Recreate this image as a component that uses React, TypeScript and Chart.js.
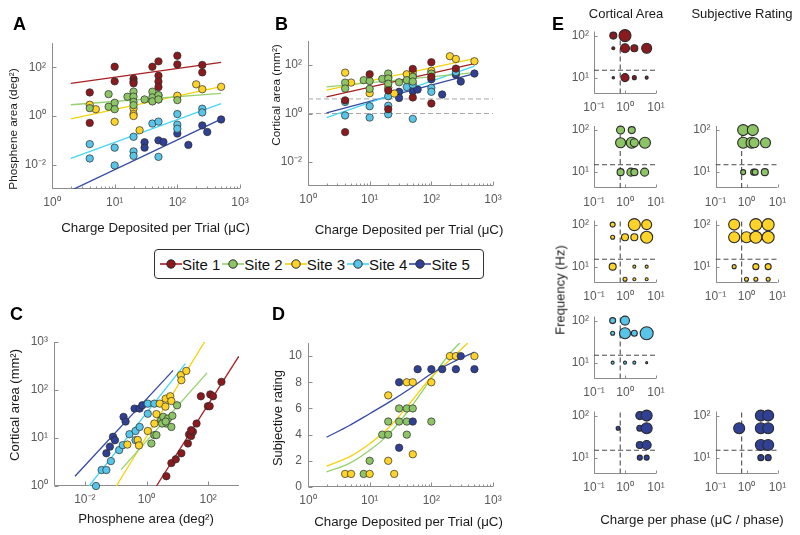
import React, { useEffect, useRef } from "react";
import { Chart, registerables } from "chart.js";

Chart.register(...registerables);

const FONT = '"Liberation Sans", Arial, Helvetica, sans-serif';
const TICK_COLOR = "#5a5a5a";
const AXIS_COLOR = "#8c8c8c";
const TITLE_COLOR = "#1a1a1a";
const EDGE = "#2b2b2b";
const TICK_SIZE = 12;
const E_TICK_SIZE = 12;
const MU = "\u03BC";

// ---------- legend / categories ----------
const SITES = ["Site 1", "Site 2", "Site 3", "Site 4", "Site 5"];
const SITE_FILL = ["#8a1a1d", "#8cc466", "#ffd327", "#58c5e8", "#2f4095"];
const SITE_LINE = ["#a81f22", "#92d36c", "#f6d20a", "#44d6f4", "#3449a8"];

// ---------- Panel A: charge (uC) vs phosphene area (deg^2) ----------
const A_S1_X = [4, 4, 10, 10, 20, 20, 20, 40, 50, 50, 50, 50, 100, 100, 250, 250];
const A_S1_Y = [9.3, 0.52, 106, 26.5, 34, 26, 22, 106, 176, 45, 26, 15.5, 300, 132, 125, 62];
const A_S2_X = [4, 8, 8, 10, 10, 16, 20, 20, 20, 20, 30, 40, 40, 40, 50, 50, 100];
const A_S2_Y = [2.1, 7.9, 2.4, 3.5, 1.9, 6.2, 10, 6.2, 3.8, 2.8, 4.8, 10, 5.8, 4, 7.2, 4.8, 4.5];
const A_S3_X = [4, 5, 10, 20, 20, 20, 25, 40, 50, 50, 100, 200, 250, 500];
const A_S3_Y = [2.9, 1.9, 0.58, 2.05, 1.2, 1.0, 0.26, 4.1, 7.0, 4.8, 6.8, 20, 12.6, 15.8];
const A_S4_X = [4, 4, 10, 10, 20, 20, 20, 40, 50, 50, 100, 100, 100, 250, 250];
const A_S4_Y = [0.07, 0.018, 0.05, 0.0093, 0.14, 0.035, 0.023, 0.49, 0.59, 0.021, 1.2, 0.44, 0.3, 2.0, 1.4];
const A_S5_X = [30, 30, 50, 60, 100, 150, 250, 300, 500];
const A_S5_Y = [0.083, 0.05, 0.1, 0.085, 0.19, 0.065, 0.41, 0.22, 0.72];
const A_FIT_X = [2, 500];
const A_FIT_Y = [[22, 160], [2.9, 8.5], [0.76, 16], [0.018, 3.2], [0.00087, 0.74]];
const A_X_TICKS = [1, 10, 100, 1000];
const A_Y_TICKS = [0.01, 1, 100];

// ---------- Panel B: charge (uC) vs cortical area (mm^2) ----------
const B_S1_X = [4, 4, 10, 20, 20, 50, 50, 100, 100, 100, 250];
const B_S1_Y = [3.5, 0.17, 42, 9, 1.5, 70, 4.6, 132, 33, 2.6, 72];
const B_S2_X = [4, 4, 8, 10, 10, 16, 20, 20, 20, 30, 40, 50, 50, 100];
const B_S2_Y = [19, 10.8, 24, 22, 10.5, 27, 45, 28, 17, 19.6, 24, 33, 21, 45];
const B_S3_X = [4, 5, 10, 20, 20, 25, 40, 50, 100, 200, 250, 500];
const B_S3_Y = [49, 19, 6.9, 31, 11.8, 6.7, 42, 52, 58, 234, 180, 145];
const B_S4_X = [4, 4, 10, 10, 20, 20, 20, 40, 50, 50, 50, 100, 100, 250];
const B_S4_Y = [3, 0.83, 2, 0.68, 5.2, 2.1, 0.93, 12.6, 38, 15.8, 0.6, 11.5, 7.9, 52];
const B_S5_X = [30, 30, 50, 60, 100, 150, 250, 300, 500];
const B_S5_Y = [7.9, 4.4, 8.4, 9.8, 26, 6.1, 40, 21, 45];
const B_FIT_X = [2, 500];
const B_FIT_Y = [[4.9, 117], [12.6, 49], [9.2, 187], [0.68, 91], [1.07, 45]];
const B_DASH_LEVELS = [1, 4];
const B_X_TICKS = [1, 10, 100, 1000];
const B_Y_TICKS = [0.01, 1, 100];

// ---------- Panel C: phosphene area vs cortical area ----------
const C_S1_X = [4.4, 6.4, 8.9, 13.5, 22, 24, 28, 32, 28, 42, 58, 98, 112, 117, 144, 270];
const C_S1_Y = [1.6, 3, 3.6, 4.8, 7.7, 11.8, 11, 13.5, 14.6, 20, 74, 46, 46, 81, 74, 148];
const C_S2_X = [1.44, 1.8, 2.1, 3, 3.5, 4.4, 5, 6.4, 6.9, 9.8, 3.2, 4.2];
const C_S2_Y = [7.7, 11.5, 11.5, 23.6, 27.6, 20, 25.5, 17, 29, 48, 20, 22];
const C_S3_X = [0.24, 0.52, 0.57, 1.1, 1.8, 2.1, 2.7, 4.1, 4.2, 5.9, 6.4, 13, 13.5, 19.5];
const C_S3_Y = [7.3, 9.1, 7, 14, 20, 31.5, 52, 45, 66, 74, 59, 204, 160, 250];
const C_S4_X = [0.023, 0.035, 0.05, 0.07, 0.13, 0.17, 0.28, 0.44, 0.44, 0.6, 1.1, 1.1, 1.8];
const C_S4_Y = [1.0, 2.15, 2.15, 3.3, 5.6, 7.1, 12, 14, 9, 17, 32, 52, 52];
const C_S5_X = [0.05, 0.065, 0.082, 0.095, 0.18, 0.21, 0.41, 0.6, 0.73];
const C_S5_Y = [4.8, 6.6, 10.6, 9, 27.5, 22, 41, 41, 48];
const C_FIT_X = [[2.1, 980], [0.15, 92], [0.105, 78], [0.0137, 18.2], [0.0048, 7.3]];
const C_FIT_Y = [[1, 500], [2.2, 228], [1, 1030], [1, 355], [1.6, 257]];
const C_X_TICKS = [0.01, 1, 100];
const C_Y_TICKS = [1, 10, 100, 1000];

// ---------- Panel D: charge vs subjective rating ----------
const D_S2_X = [8, 10, 16, 20, 20, 30, 40, 50, 30, 40, 40, 100];
const D_S2_Y = [1, 2, 4, 4, 5, 6, 6, 6, 5, 5, 4, 5];
const D_S3_X = [4, 5, 10, 20, 20, 25, 40, 50, 50, 100, 200, 250, 500];
const D_S3_Y = [1, 1, 1, 2, 7, 1, 8, 8, 2.5, 8, 10, 10, 10];
const D_S5_X = [30, 30, 50, 60, 100, 150, 250, 300, 500];
const D_S5_Y = [8, 3, 5, 9, 9, 9, 9, 10, 9];
const D_FIT_S2_X = [2, 4.7, 10, 21, 45, 100, 200, 290];
const D_FIT_S2_Y = [1.15, 1.8, 2.8, 4.1, 6.0, 8.3, 10.2, 11];
const D_FIT_S3_X = [2, 4.7, 10, 21, 45, 100, 200, 390];
const D_FIT_S3_Y = [1.6, 2.3, 3.3, 4.6, 6.4, 8.4, 9.7, 11];
const D_FIT_S5_X = [2, 4.7, 10, 21, 45, 100, 225, 500];
const D_FIT_S5_Y = [3.8, 4.7, 5.6, 6.5, 7.5, 8.65, 9.55, 10.3];
const D_X_TICKS = [1, 10, 100, 1000];
const D_Y_TICKS = [0, 2, 4, 6, 8, 10];

// ---------- Panel E: charge per phase vs frequency (marker size = response) ----------
const E_X_TICKS = [0.1, 1, 10];
const E_Y_TICKS = [10, 100];
const E_CHARGE_THRESHOLD = 0.7;
const E_FREQ_THRESHOLD = 15;

const E1_CA_CHARGE = [0.42, 1.0, 0.42, 1.0, 2.0, 5.0, 0.42, 1.0, 2.0, 5.0];
const E1_CA_FREQ = [100, 100, 50, 50, 50, 50, 10, 10, 10, 10];
const E1_CA_SIZE = [3.5, 6, 1.5, 4.5, 3.5, 5, 1.2, 4, 2, 1.5];

const E2_CA_CHARGE = [0.72, 1.65, 0.72, 1.65, 2.0, 4.4, 0.72, 1.55, 2.0, 4.3];
const E2_CA_FREQ = [100, 100, 50, 50, 50, 50, 10, 10, 10, 10];
const E2_CA_SIZE = [4, 3.5, 5, 5.5, 4, 5.5, 3.5, 4, 3.5, 4];
const E2_SR_CHARGE = [0.78, 1.6, 0.78, 1.45, 1.75, 4.1, 0.78, 1.7, 1.9, 3.9];
const E2_SR_FREQ = [100, 100, 50, 50, 50, 50, 10, 10, 10, 10];
const E2_SR_SIZE = [5.5, 5.5, 5.5, 5.5, 5, 5, 2.5, 3, 3, 3.5];

const E3_CA_CHARGE = [0.4, 2, 5, 0.4, 1, 2, 5, 0.4, 2, 5, 1, 2, 5];
const E3_CA_FREQ = [100, 100, 100, 50, 50, 50, 50, 10, 10, 10, 5, 5, 5];
const E3_CA_SIZE = [2.5, 6, 5, 2, 3.5, 3.5, 6, 3.5, 1.5, 1.5, 2, 1.5, 1.5];
const E3_SR_CHARGE = [0.4, 2, 5, 0.4, 1, 2, 5, 0.4, 2, 5, 1, 2, 5];
const E3_SR_FREQ = [100, 100, 100, 50, 50, 50, 50, 10, 10, 10, 5, 5, 5];
const E3_SR_SIZE = [5.5, 6, 6, 5.5, 5.5, 6, 6, 2, 3, 3, 2, 2, 2];

const E4_CA_CHARGE = [0.4, 1, 0.4, 1, 2, 5, 0.4, 1, 2, 5];
const E4_CA_FREQ = [100, 100, 50, 50, 50, 50, 10, 10, 10, 10];
const E4_CA_SIZE = [3, 4.5, 2, 5.5, 3, 6.5, 1.5, 1.5, 1.5, 1];

const E5_CA_CHARGE = [0.6, 3, 5, 3, 5, 3, 5, 3, 5];
const E5_CA_FREQ = [50, 100, 100, 50, 50, 20, 20, 10, 10];
const E5_CA_SIZE = [2, 4, 5.5, 3, 5.5, 3.5, 4.5, 2.5, 2.5];
const E5_SR_CHARGE = [0.58, 2.9, 5, 2.9, 5, 2.9, 5, 2.9, 5];
const E5_SR_FREQ = [50, 100, 100, 50, 50, 20, 20, 10, 10];
const E5_SR_SIZE = [5.5, 5.5, 5.5, 5.5, 5.5, 5.5, 5.5, 3, 3];

// ---------- text labels ----------
const X_CHARGE_TITLE = "Charge Deposited per Trial (" + MU + "C)";
const AXIS_TITLES = [
  { text: X_CHARGE_TITLE, x: 155.5, y: 227.5, size: 13.3, rotate: false },
  { text: "Phosphene area (deg\u00B2)", x: 13.5, y: 129, size: 11.8, rotate: true },
  { text: X_CHARGE_TITLE, x: 409, y: 229.5, size: 13.3, rotate: false },
  { text: "Cortical area (mm\u00B2)", x: 276.5, y: 95, size: 11.8, rotate: true },
  { text: "Phosphene area (deg\u00B2)", x: 146, y: 519, size: 13.2, rotate: false },
  { text: "Cortical area (mm\u00B2)", x: 13.5, y: 405, size: 13, rotate: true },
  { text: X_CHARGE_TITLE, x: 408.5, y: 521.5, size: 13.3, rotate: false },
  { text: "Subjective rating", x: 276.5, y: 417.5, size: 13, rotate: true },
  { text: "Cortical Area", x: 626, y: 13, size: 13, rotate: false },
  { text: "Subjective Rating", x: 742, y: 13, size: 13, rotate: false },
  { text: "Frequency (Hz)", x: 559.5, y: 290, size: 13, rotate: true },
  { text: "Charge per phase (" + MU + "C / phase)", x: 692, y: 519.5, size: 13.3, rotate: false },
];

// ---------- helpers ----------
const SUP: Record<string, string> = {
  "-": "\u207B", "0": "\u2070", "1": "\u00B9", "2": "\u00B2", "3": "\u00B3",
  "4": "\u2074", "5": "\u2075", "6": "\u2076", "7": "\u2077", "8": "\u2078", "9": "\u2079",
};
const pow10Label = (v: number) =>
  "10" + String(Math.round(Math.log10(v))).split("").map((c) => SUP[c] || c).join("");

const pts = (xs: number[], ys: number[]) => xs.map((x, i) => ({ x, y: ys[i] }));

function scatterDs(xs: number[], ys: number[], site: number, radius: number | number[] = 3.7, bw = 0.7) {
  return {
    label: SITES[site],
    data: pts(xs, ys),
    showLine: false,
    clip: false,
    pointRadius: radius,
    pointHoverRadius: radius,
    pointBackgroundColor: SITE_FILL[site],
    pointBorderColor: EDGE,
    pointBorderWidth: bw,
    order: 0,
  };
}

function lineDs(xs: number[], ys: number[], color: string, width = 1.3, dash: number[] = [], tension = 0) {
  return {
    data: pts(xs, ys),
    showLine: true,
    pointRadius: 0,
    pointHoverRadius: 0,
    borderColor: color,
    borderWidth: width,
    borderDash: dash,
    tension,
    fill: false,
    order: 1,
  };
}

const matlabAxes = {
  id: "matlabAxes",
  beforeDatasetsDraw(chart: any, _a: any, opts: any) {
    const { ctx, chartArea: a, scales } = chart;
    const xs = scales.x;
    const ys = scales.y;
    const L = Math.round(a.left) + 0.5;
    const B = Math.round(a.bottom) - 0.5;
    const len = opts.tickLen ?? 4;
    ctx.save();
    ctx.strokeStyle = AXIS_COLOR;
    ctx.lineWidth = 1;
    ctx.beginPath();
    ctx.moveTo(L, a.top);
    ctx.lineTo(L, B);
    ctx.lineTo(a.right, B);
    for (const v of opts.xTicks || []) {
      const px = Math.round(xs.getPixelForValue(v)) + 0.5;
      ctx.moveTo(px, B);
      ctx.lineTo(px, B - len);
    }
    for (const v of opts.yTicks || []) {
      const py = Math.round(ys.getPixelForValue(v)) + 0.5;
      ctx.moveTo(L, py);
      ctx.lineTo(L + len, py);
    }
    if (opts.xMinor) {
      const lo = Math.floor(Math.log10(xs.min));
      const hi = Math.ceil(Math.log10(xs.max));
      for (let e = lo; e < hi; e++) {
        for (let k = 2; k <= 9; k++) {
          const v = k * Math.pow(10, e);
          if (v <= xs.min || v >= xs.max) continue;
          const px = Math.round(xs.getPixelForValue(v)) + 0.5;
          ctx.moveTo(px, B);
          ctx.lineTo(px, B - len / 2);
        }
      }
    }
    ctx.stroke();
    ctx.restore();
  },
};

type Axis = {
  type: "logarithmic" | "linear";
  min: number;
  max: number;
  ticks: number[];
  size: number;
  pad: number;
  minor?: boolean;
};
type Panel = {
  area: { l: number; r: number; t: number; b: number };
  x: Axis;
  y: Axis;
  datasets: any[];
  tickLen: number;
};

function scaleOpts(ax: Axis, which: "x" | "y", boxSize: number) {
  return {
    type: ax.type,
    min: ax.min,
    max: ax.max,
    position: which === "x" ? "bottom" : "left",
    grid: { display: false, drawTicks: false },
    border: { display: false },
    ticks: {
      autoSkip: false,
      maxRotation: 0,
      minRotation: 0,
      padding: ax.pad,
      color: TICK_COLOR,
      font: { family: FONT, size: ax.size },
      callback: (v: any) => (ax.type === "logarithmic" ? pow10Label(Number(v)) : String(v)),
    },
    afterBuildTicks: (s: any) => {
      s.ticks = ax.ticks.map((v) => ({ value: v }));
    },
    afterFit: (s: any) => {
      if (which === "x") s.height = boxSize;
      else s.width = boxSize;
    },
    title: { display: false },
  };
}

function buildConfig(p: Panel): any {
  const yW = 40;
  const xH = 28;
  return {
    type: "scatter",
    data: { datasets: p.datasets },
    options: {
      responsive: false,
      animation: false,
      events: [],
      layout: { padding: { left: p.area.l - yW, top: p.area.t, right: 800 - p.area.r, bottom: 535 - p.area.b - xH } },
      plugins: {
        legend: { display: false },
        tooltip: { enabled: false },
        matlabAxes: { xTicks: p.x.ticks, yTicks: p.y.ticks, xMinor: !!p.x.minor, tickLen: p.tickLen },
      },
      scales: { x: scaleOpts(p.x, "x", xH), y: scaleOpts(p.y, "y", yW) },
    },
    plugins: [matlabAxes],
  };
}

// ---------- panels ----------
const logAx = (min: number, max: number, ticks: number[], minor = false): Axis => ({
  type: "logarithmic", min, max, ticks, size: TICK_SIZE, pad: 6, minor,
});

const panelA: Panel = {
  area: { l: 52, r: 240, t: 43, b: 189 },
  x: logAx(1, 1000, A_X_TICKS, true),
  y: logAx(0.001, 1000, A_Y_TICKS),
  tickLen: 4,
  datasets: [
    scatterDs(A_S1_X, A_S1_Y, 0),
    scatterDs(A_S2_X, A_S2_Y, 1),
    scatterDs(A_S3_X, A_S3_Y, 2),
    scatterDs(A_S4_X, A_S4_Y, 3),
    scatterDs(A_S5_X, A_S5_Y, 4),
    ...A_FIT_Y.map((ys, i) => lineDs(A_FIT_X, ys, SITE_LINE[i])),
  ],
};

const panelB: Panel = {
  area: { l: 308, r: 493, t: 41, b: 186 },
  x: logAx(1, 1000, B_X_TICKS, true),
  y: logAx(0.001, 1000, B_Y_TICKS),
  tickLen: 4,
  datasets: [
    scatterDs(B_S1_X, B_S1_Y, 0),
    scatterDs(B_S2_X, B_S2_Y, 1),
    scatterDs(B_S3_X, B_S3_Y, 2),
    scatterDs(B_S4_X, B_S4_Y, 3),
    scatterDs(B_S5_X, B_S5_Y, 4),
    ...B_FIT_Y.map((ys, i) => lineDs(B_FIT_X, ys, SITE_LINE[i])),
    ...B_DASH_LEVELS.map((lv) => lineDs([1, 1000], [lv, lv], "#a8a8a8", 1, [5, 3])),
  ],
};

const panelC: Panel = {
  area: { l: 54, r: 239, t: 342, b: 486 },
  x: logAx(0.001, 1000, C_X_TICKS),
  y: logAx(1, 1000, C_Y_TICKS),
  tickLen: 4,
  datasets: [
    scatterDs(C_S1_X, C_S1_Y, 0),
    scatterDs(C_S2_X, C_S2_Y, 1),
    scatterDs(C_S3_X, C_S3_Y, 2),
    scatterDs(C_S4_X, C_S4_Y, 3),
    scatterDs(C_S5_X, C_S5_Y, 4),
    ...C_FIT_Y.map((ys, i) => lineDs(C_FIT_X[i], ys, SITE_LINE[i])),
  ],
};

const panelD: Panel = {
  area: { l: 308, r: 493, t: 343, b: 487 },
  x: logAx(1, 1000, D_X_TICKS, true),
  y: { type: "linear", min: 0, max: 11, ticks: D_Y_TICKS, size: TICK_SIZE, pad: 6 },
  tickLen: 4,
  datasets: [
    scatterDs(D_S5_X, D_S5_Y, 4),
    scatterDs(D_S3_X, D_S3_Y, 2),
    scatterDs(D_S2_X, D_S2_Y, 1),
    lineDs(D_FIT_S5_X, D_FIT_S5_Y, SITE_LINE[4], 1.3, [], 0.35),
    lineDs(D_FIT_S3_X, D_FIT_S3_Y, SITE_LINE[2], 1.3, [], 0.35),
    lineDs(D_FIT_S2_X, D_FIT_S2_Y, SITE_LINE[1], 1.3, [], 0.35),
  ],
};

const E_COL_LEFT = [594, 715.5];
const E_ROW_TOP = [31.5, 126, 220.5, 316.5, 411.5];
const E_W = 62;
const E_H = 62;
const E_X_MIN = 0.1;
const E_X_MAX = 10;
const E_Y_MIN = 4.2;
const E_Y_MAX = 125;

function ePanel(row: number, col: number, site: number, charge: number[], freq: number[], size: number[]): Panel {
  const l = E_COL_LEFT[col];
  const t = E_ROW_TOP[row];
  return {
    area: { l, r: l + E_W, t, b: t + E_H },
    x: { type: "logarithmic", min: E_X_MIN, max: E_X_MAX, ticks: E_X_TICKS, size: E_TICK_SIZE, pad: 7 },
    y: { type: "logarithmic", min: E_Y_MIN, max: E_Y_MAX, ticks: E_Y_TICKS, size: E_TICK_SIZE, pad: 5 },
    tickLen: 3,
    datasets: [
      scatterDs(charge, freq, site, size, 1.1),
      lineDs([E_X_MIN, E_X_MAX], [E_FREQ_THRESHOLD, E_FREQ_THRESHOLD], "#4a4a4a", 1, [5, 3]),
      lineDs([E_CHARGE_THRESHOLD, E_CHARGE_THRESHOLD], [E_Y_MIN, E_Y_MAX], "#3a3a3a", 1, [5, 3]),
    ],
  };
}

const PANELS: Panel[] = [
  panelA,
  panelB,
  panelC,
  panelD,
  ePanel(0, 0, 0, E1_CA_CHARGE, E1_CA_FREQ, E1_CA_SIZE),
  ePanel(1, 0, 1, E2_CA_CHARGE, E2_CA_FREQ, E2_CA_SIZE),
  ePanel(1, 1, 1, E2_SR_CHARGE, E2_SR_FREQ, E2_SR_SIZE),
  ePanel(2, 0, 2, E3_CA_CHARGE, E3_CA_FREQ, E3_CA_SIZE),
  ePanel(2, 1, 2, E3_SR_CHARGE, E3_SR_FREQ, E3_SR_SIZE),
  ePanel(3, 0, 3, E4_CA_CHARGE, E4_CA_FREQ, E4_CA_SIZE),
  ePanel(4, 0, 4, E5_CA_CHARGE, E5_CA_FREQ, E5_CA_SIZE),
  ePanel(4, 1, 4, E5_SR_CHARGE, E5_SR_FREQ, E5_SR_SIZE),
];

const LETTERS = [
  { t: "A", x: 13, y: 14.5 },
  { t: "B", x: 275, y: 14.5 },
  { t: "C", x: 10, y: 305 },
  { t: "D", x: 272, y: 305 },
  { t: "E", x: 552, y: 14.5 },
];

export default function App() {
  const refs = useRef<(HTMLCanvasElement | null)[]>([]);
  useEffect(() => {
    const charts = PANELS.map((p, i) => new Chart(refs.current[i] as HTMLCanvasElement, buildConfig(p)));
    return () => charts.forEach((c) => c.destroy());
  }, []);

  return (
    <div style={{ position: "absolute", left: 0, top: 0, width: 800, height: 535, background: "#fff", fontFamily: FONT, overflow: "hidden" }}>
      {PANELS.map((_, i) => (
        <canvas
          key={i}
          ref={(el) => {
            refs.current[i] = el;
          }}
          width={800}
          height={535}
          style={{ position: "absolute", left: 0, top: 0, width: 800, height: 535, pointerEvents: "none" }}
        />
      ))}
      {LETTERS.map((L) => (
        <div key={L.t} style={{ position: "absolute", left: L.x, top: L.y, fontSize: 18, fontWeight: 700, lineHeight: 1, color: "#000" }}>
          {L.t}
        </div>
      ))}
      {AXIS_TITLES.map((T, i) => (
        <div
          key={i}
          style={{
            position: "absolute",
            left: T.x,
            top: T.y,
            transform: "translate(-50%, -50%)" + (T.rotate ? " rotate(-90deg)" : ""),
            whiteSpace: "nowrap",
            fontSize: T.size,
            fontWeight: 400,
            lineHeight: 1,
            color: TITLE_COLOR,
          }}
        >
          {T.text}
        </div>
      ))}
      <div
        style={{
          position: "absolute",
          left: 154,
          top: 249,
          width: 330,
          height: 30,
          boxSizing: "border-box",
          border: "1px solid #333",
          borderRadius: 4,
          display: "flex",
          alignItems: "center",
          paddingLeft: 5,
          background: "#fff",
        }}
      >
        {SITES.map((s, i) => (
          <div key={s} style={{ display: "flex", alignItems: "center", marginRight: 2 }}>
            <svg width={22} height={12} style={{ display: "block" }}>
              <line x1={0} y1={6} x2={22} y2={6} stroke={SITE_LINE[i]} strokeWidth={1.6} />
              <circle cx={11} cy={6} r={4.2} fill={SITE_FILL[i]} stroke={EDGE} strokeWidth={1} />
            </svg>
            <span style={{ fontSize: 15, color: "#111", lineHeight: 1 }}>{s}</span>
          </div>
        ))}
      </div>
    </div>
  );
}
